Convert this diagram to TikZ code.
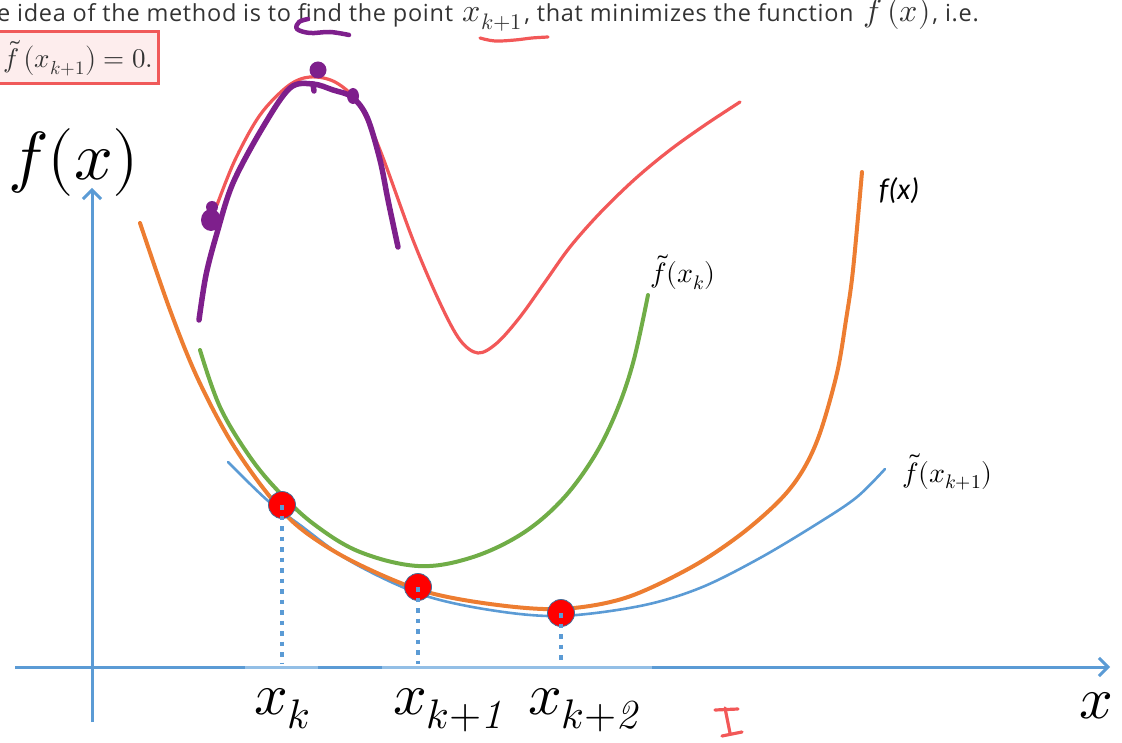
\documentclass[tikz,border=0pt]{standalone}
\usepackage{fontspec}
\usepackage{unicode-math}
\setmainfont{Open Sans}
\setmathfont{Latin Modern Math}
\newfontfamily\carl{Carlito}
\newfontfamily\titlefont[LetterSpace=3]{Open Sans}
\usetikzlibrary{arrows.meta}
\definecolor{axblue}{HTML}{5B9BD5}
\definecolor{axlight}{HTML}{93BFE6}
\definecolor{orangec}{HTML}{ED7D31}
\definecolor{greenc}{HTML}{70AD47}
\definecolor{penred}{HTML}{F25858}
\definecolor{penpurple}{HTML}{7E1F8C}
\definecolor{txtgray}{HTML}{333333}
\definecolor{boxred}{HTML}{F05A5A}
\definecolor{boxpink}{HTML}{FDEDED}
\definecolor{dotedge}{HTML}{41719C}
\newcommand{\itone}[1]{\text{\fontfamily{lmr}\itshape #1}}
\newcommand{\inmath}[1]{\kern3pt{\fontsize{32}{32}\selectfont$#1$}\kern2pt}
\tikzset{
  axisline/.style={axblue, line width=3},
  curve/.style={line width=4, line cap=round},
  pen/.style={line width=3.2, line cap=round, line join=round},
  purplepen/.style={penpurple, line width=5.5, line cap=round, line join=round},
  reddot/.style={circle, fill=red, draw=dotedge, line width=0.8, minimum size=27, inner sep=0},
  dropline/.style={axblue, line width=4.5, dash pattern=on 4.5pt off 6pt},
  biglabel/.style={font=\fontsize{59}{61}\selectfont, inner sep=0},
  smalllabel/.style={font=\fontsize{28}{30}\selectfont, inner sep=0},
}
\begin{document}
\begin{tikzpicture}[x=1pt,y=-1pt]
\useasboundingbox (0,0) rectangle (1122,743);
\clip (0,0) rectangle (1122,743);

% top text
\node[anchor=base west, font=\titlefont\fontsize{23.5}{26}\selectfont, text=txtgray, inner sep=0] (title) at (-3,22)
  {e idea of the method is to find the point \inmath{x_{k+1}}, that minimizes the function \inmath{f\left(x\right)}, i.e.};
\node[anchor=east, draw=boxred, line width=3, fill=boxpink, minimum height=52, inner xsep=5, text=txtgray,
  font=\fontsize{27}{29}\selectfont] (eq) at (160,58) {$\tilde f\left(x_{k+1}\right)=0.$};

% axes
\coordinate (ybot) at (92,722);
\coordinate (ytop) at (92,188);
\coordinate (xleft) at (15,667);
\coordinate (xright) at (1110,667);
\draw[axisline, -{Straight Barb[length=9pt,width=18pt,line width=3pt]}] (ybot) -- (ytop);
\draw[axisline, -{Straight Barb[length=9pt,width=18pt,line width=3pt]}] (xleft) -- (xright);
\coordinate (s1a) at (245,667); \coordinate (s1b) at (318,667);
\coordinate (s2a) at (382,667); \coordinate (s2b) at (652,667);
\draw[axlight, line width=3] (s1a) -- (s1b);
\draw[axlight, line width=3] (s2a) -- (s2b);

% axis labels
\node[anchor=base west, font=\fontsize{68}{70}\selectfont, inner sep=0] (fx) at (8,180) {$f(x)$};
\node[biglabel, anchor=base west] (xl) at (1079,718) {$x$};

% curves
\draw[curve, greenc] plot[smooth, tension=0.6] coordinates {(200,350) (220,407) (250,457) (280,493) (315,525) (360,552) (418,566) (470,558) (520,535) (560,502) (592,460) (615,415) (633,363) (648,295)};
\draw[axblue, line width=2.6, line cap=round] plot[smooth, tension=0.55] coordinates {(228,462) (267,500) (300,525) (350,561) (420,594) (490,610) (560,616) (640,606) (700,588) (760,558) (820,522) (857,497) (885,469)};
\draw[curve, orangec] plot[smooth, tension=0.55] coordinates {(140,223) (170,310) (197,377) (230,440) (267,493) (300,528) (350,560) (420,590) (490,604) (560,609) (625,598) (690,568) (740,535) (780,500) (803,470) (820,433) (837,373) (846,320) (853,270) (862,172)};

% red points
\node[reddot] (d1) at (282,505) {};
\node[reddot] (d2) at (418,587) {};
\node[reddot] (d3) at (561,613) {};
\coordinate (a1) at (282,664);
\coordinate (a2) at (418,664);
\coordinate (a3) at (561,664);
\draw[dropline] (d1.center) -- (a1);
\draw[dropline] (d2.center) -- (a2);
\draw[dropline] (d3.center) -- (a3);

% x labels
\node[biglabel, anchor=base west] (lk) at (254,714) {$x_k$};
\node[biglabel, anchor=base west] (lk1) at (393,714) {$x_{k+\itone{1}}$};
\node[biglabel, anchor=base west] (lk2) at (528,714) {$x_{k+\itone{2}}$};

% curve labels
\node[anchor=base west, font=\carl\itshape\fontsize{30}{32}\selectfont, inner sep=0] (lf) at (879,200) {f(x)};
\node[smalllabel, anchor=base west] (lfk) at (650,283) {$\tilde f(x_k)$};
\node[smalllabel, anchor=base west] (lfk1) at (902,482) {$\tilde f(x_{k+1})$};

% red pen curve
\draw[pen, penred] plot[smooth, tension=0.55] coordinates {(217,205) (235,160) (260,115) (288,86) (310,77) (335,82) (358,103) (380,150) (413,240) (440,303) (460,340) (478,353) (497,343) (520,317) (545,282) (570,247) (600,213) (635,179) (670,150) (705,125) (740,102)};
% red underline and mark
\draw[pen, penred] plot[smooth, tension=0.6] coordinates {(480,38) (495,41) (515,40) (532,38) (548,37)};
\coordinate (i1) at (715,710); \coordinate (i2) at (738,709);
\coordinate (i3) at (725,708); \coordinate (i4) at (730,733);
\coordinate (i5) at (722,736); \coordinate (i6) at (742,732);
\draw[pen, penred] (i1) -- (i2);
\draw[pen, penred] (i3) -- (i4);
\draw[pen, penred] (i5) -- (i6);

% purple pen
\draw[purplepen] plot[smooth, tension=0.55] coordinates {(199,320) (206,275) (217,233) (233,183) (263,127) (290,88) (313,84) (333,90) (352,97) (367,117) (380,160) (388,200) (398,247)};
\draw[purplepen] (313,84) -- (314,91);
\fill[penpurple] (318,70) circle (8.5);
\fill[penpurple] (353,96) ellipse (6 and 8);
\fill[penpurple] (211,220) ellipse (10 and 11);
\fill[penpurple] (212,207) circle (6);
\draw[purplepen, line width=4.5] plot[smooth, tension=0.6] coordinates {(349,35) (330,32) (310,33) (297,29) (299,22) (308,19)};
\end{tikzpicture}
\end{document}
